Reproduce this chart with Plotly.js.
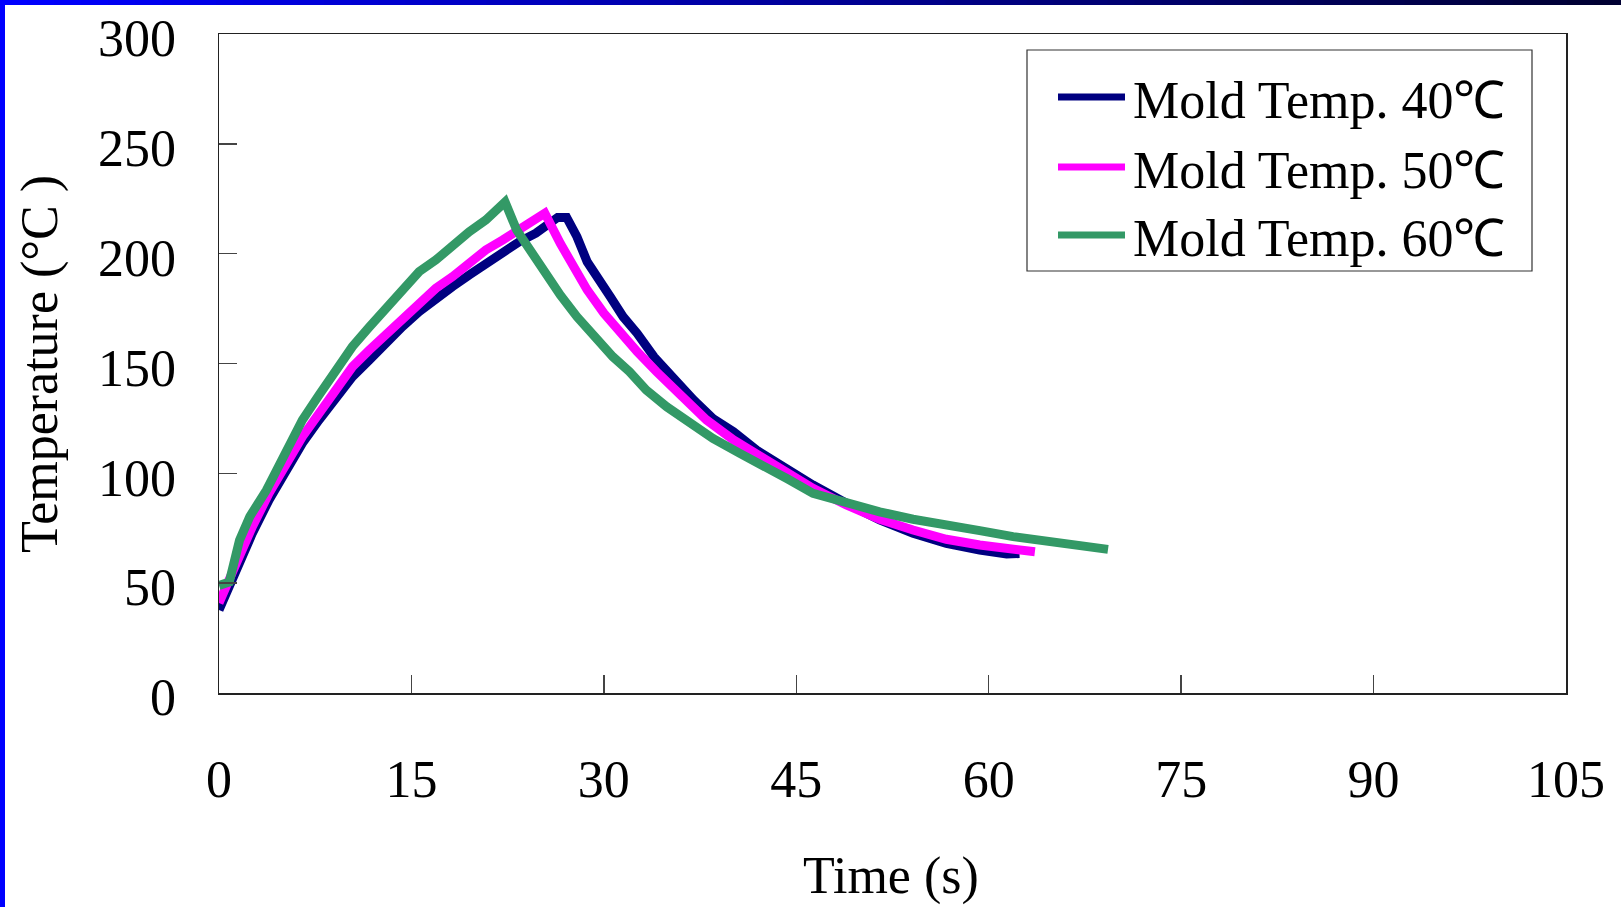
<!DOCTYPE html>
<html>
<head>
<meta charset="utf-8">
<script src="https://cdn.plot.ly/plotly-3.0.1.min.js"></script>
<style>
  html, body { margin: 0; padding: 0; background: #ffffff; }
  #chart { width: 1621px; height: 907px; }
</style>
</head>
<body>
<div id="chart"></div>
<script>
// ---- data ----
const seriesNames = ["Mold Temp. 40℃", "Mold Temp. 50℃", "Mold Temp. 60℃"];
const seriesColors = ["#000080", "#FF00FF", "#339966"];

const time40 = [0, 1.3, 2.6, 3.9, 5.2, 6.5, 7.8, 9.1, 10.4, 11.7, 13.0, 14.3, 15.6, 16.9, 18.2, 19.5, 20.8, 22.1, 23.4, 24.7, 26.0, 26.4, 27.1, 27.9, 28.7, 29.4, 30.5, 31.5, 32.6, 33.9, 35.4, 37.0, 38.5, 40.1, 41.9, 43.7, 46.3, 48.9, 51.5, 54.1, 56.7, 59.3, 61.4, 62.4];
const temp40 = [37.8, 56, 72.7, 87.9, 101.5, 113.7, 124.3, 134.2, 144, 151.5, 159.9, 166.8, 173.6, 179.7, 185, 190.3, 195.6, 200.9, 205.4, 209.3, 214.6, 216.5, 216.5, 207.7, 196.3, 189.5, 180.4, 171.3, 163.7, 153.1, 143.3, 133.4, 125, 119, 110.6, 103.8, 94.7, 86.4, 78.8, 72.7, 68.1, 65.1, 63.3, 63.5];

const time50 = [0, 1.3, 2.6, 3.9, 5.2, 6.5, 7.8, 9.1, 10.4, 11.7, 13.0, 14.3, 15.6, 16.9, 18.2, 19.5, 20.8, 22.1, 23.4, 24.7, 25.4, 26.6, 27.6, 28.7, 30.0, 31.3, 32.6, 34.1, 35.9, 38.0, 40.1, 42.2, 43.7, 46.3, 48.9, 51.5, 54.1, 56.7, 59.3, 61.9, 63.6];
const temp50 = [41, 59, 75.7, 90.9, 104.6, 116.7, 127.3, 137.9, 148.5, 156, 163, 171.3, 178.1, 184.2, 189.5, 195.6, 201.7, 206.2, 210.8, 215.3, 218.4, 204.7, 194.1, 183.5, 172.9, 163.7, 155.4, 146.3, 136.4, 124.3, 115.2, 107.6, 101.5, 93.2, 85.6, 79.1, 74.2, 70, 67.4, 65.6, 64.3];

const time60 = [0, 0.8, 1.6, 2.4, 3.7, 5.0, 6.5, 7.8, 9.1, 10.4, 11.7, 13.0, 14.3, 15.6, 16.9, 18.2, 19.5, 20.8, 22.3, 23.2, 24.2, 25.3, 26.6, 27.9, 29.2, 30.7, 32.0, 33.3, 34.9, 36.5, 38.5, 40.6, 42.7, 44.3, 46.3, 48.9, 51.5, 54.1, 56.7, 59.3, 61.9, 64.5, 67.1, 69.3];
const temp60 = [49, 50.5, 69.6, 80.3, 92.4, 108, 124.3, 135.7, 147, 157.7, 166.5, 175.1, 183.5, 191.8, 197.1, 203.9, 210, 215.3, 223.5, 210.8, 201.7, 191.8, 181.2, 171.3, 162.2, 153.1, 146.3, 137.9, 130.3, 123.5, 115.9, 109.1, 103, 97.5, 90.9, 86.4, 82.5, 79.1, 76, 73.9, 71.2, 68.9, 66.6, 65.4];

const xTickVals = [0, 15, 30, 45, 60, 75, 90, 105];
const yTickVals = [0, 50, 100, 150, 200, 250, 300];
const xTitle = "Time (s)";
const yTitle = "Temperature (°C )";

// ---- layout geometry ----
const W = 1621, H = 907;
const L = 219, R = 1566, T = 34, B = 693;
const pw = R - L, ph = B - T;
const px = x => (x - L) / pw;
const py = y => (B - y) / ph;
const FONT = "Liberation Serif, Times New Roman, serif";
const FS = 52;

const xs = [time40, time50, time60];
const ys = [temp40, temp50, temp60];
const traces = xs.map((x, i) => ({
  type: "scatter", mode: "lines", x: x, y: ys[i], name: seriesNames[i],
  line: { color: seriesColors[i], width: 9 }, showlegend: false, hoverinfo: "skip"
}));

const shapes = [];
const annotations = [];

// decorative blue frame (left strip and top gradient strip)
shapes.push({ type: "rect", xref: "paper", yref: "paper", x0: px(0), x1: px(5), y0: py(H), y1: py(0),
  fillcolor: "#0000FF", line: { width: 0 }, layer: "above" });
const NSEG = 60;
for (let i = 0; i < NSEG; i++) {
  const f = i / (NSEG - 1);
  const b = Math.round(255 - f * 205);
  shapes.push({ type: "rect", xref: "paper", yref: "paper",
    x0: px(W * i / NSEG), x1: px(W * (i + 1) / NSEG + 1), y0: py(5), y1: py(0),
    fillcolor: `rgb(0,0,${b})`, line: { width: 0 }, layer: "above" });
}

// custom legend
shapes.push({ type: "rect", xref: "paper", yref: "paper", x0: px(1027), x1: px(1532), y0: py(271), y1: py(50),
  fillcolor: "#ffffff", line: { color: "#333333", width: 1.2 }, layer: "above" });
const rowY = [97, 167, 235];
seriesNames.forEach((n, i) => {
  shapes.push({ type: "line", xref: "paper", yref: "paper", x0: px(1058), x1: px(1125), y0: py(rowY[i]), y1: py(rowY[i]),
    line: { color: seriesColors[i], width: 7 }, layer: "above" });
  annotations.push({ xref: "paper", yref: "paper", x: px(1131), y: py(rowY[i] + 3), xanchor: "left", yanchor: "middle",
    text: n, showarrow: false, font: { family: FONT, size: FS, color: "#000" } });
});

// axis titles
annotations.push({ xref: "paper", yref: "paper", x: px(891), y: py(876), xanchor: "center", yanchor: "middle",
  text: xTitle, showarrow: false, font: { family: FONT, size: FS, color: "#000" } });
annotations.push({ xref: "paper", yref: "paper", x: px(40), y: py(364), xanchor: "center", yanchor: "middle",
  text: yTitle, textangle: -90, showarrow: false, font: { family: FONT, size: FS, color: "#000" } });

const layout = {
  width: W, height: H,
  margin: { l: L, r: W - R, t: T, b: H - B, pad: 0 },
  paper_bgcolor: "#ffffff", plot_bgcolor: "#ffffff",
  showlegend: false,
  xaxis: {
    range: [0, 105], tickvals: xTickVals, ticktext: xTickVals.map(String),
    ticks: "inside", ticklen: 18, tickwidth: 1.5, tickcolor: "#444",
    showline: true, linecolor: "#222", linewidth: 1.5, mirror: true,
    showgrid: false, zeroline: false, ticklabelstandoff: 40,
    tickfont: { family: FONT, size: FS, color: "#000" }, fixedrange: true
  },
  yaxis: {
    range: [0, 300], tickvals: yTickVals, ticktext: yTickVals.map(String),
    ticks: "inside", ticklen: 18, tickwidth: 1.5, tickcolor: "#444",
    showline: true, linecolor: "#222", linewidth: 1.5, mirror: true,
    showgrid: false, zeroline: false, ticklabelstandoff: 31, ticklabelshift: 4,
    tickfont: { family: FONT, size: FS, color: "#000" }, fixedrange: true
  },
  shapes: shapes,
  annotations: annotations
};

Plotly.newPlot("chart", traces, layout, { displayModeBar: false, staticPlot: true });
</script>
</body>
</html>
